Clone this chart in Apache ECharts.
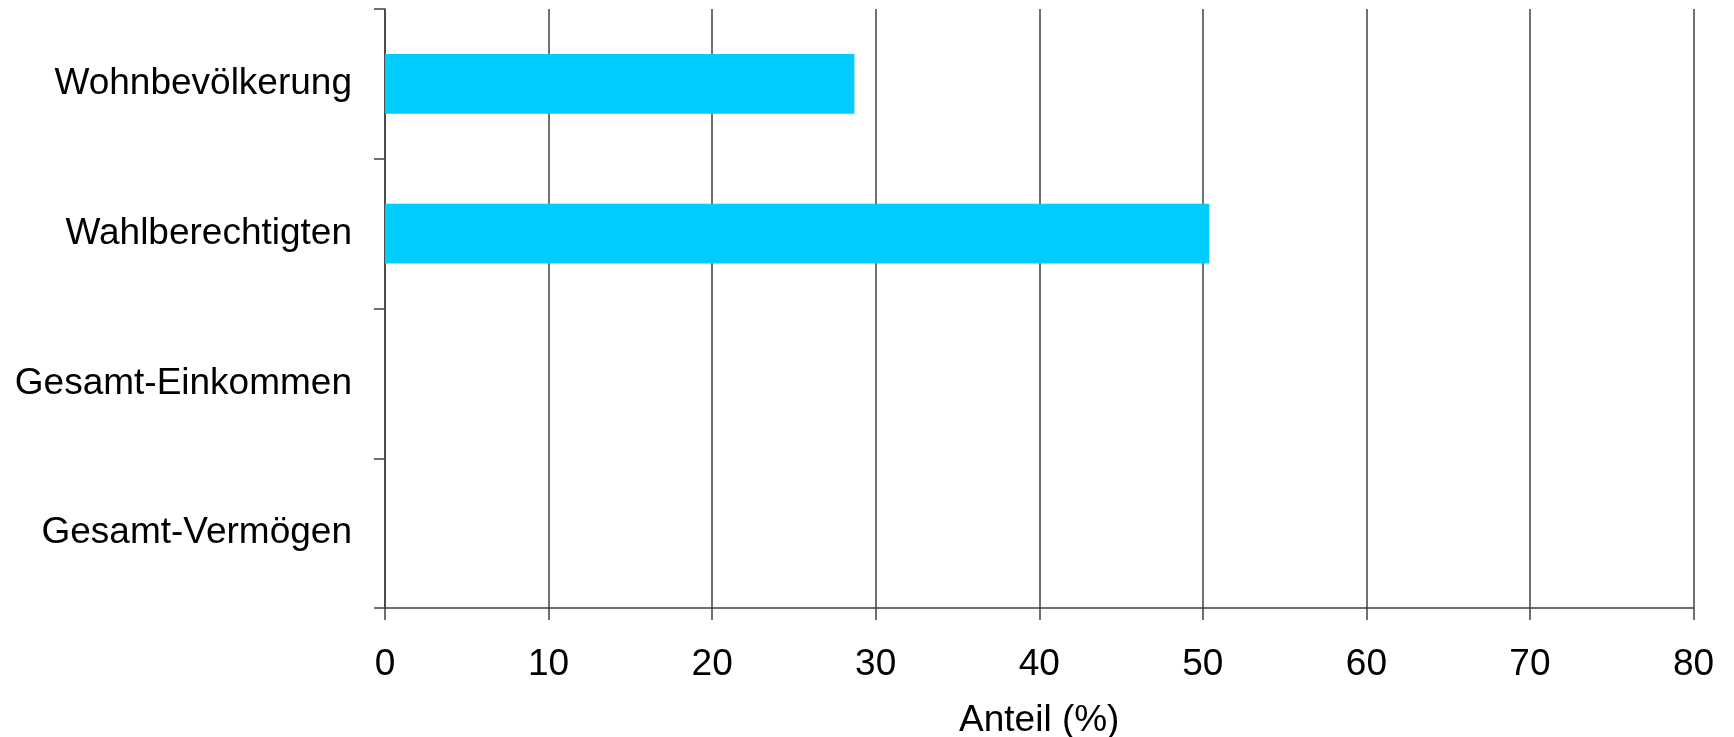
<!DOCTYPE html>
<html>
<head>
<meta charset="utf-8">
<script src="https://cdn.jsdelivr.net/npm/echarts@6/dist/echarts.min.js"></script>
<style>
html,body{margin:0;padding:0;background:#fff;}
#chart{width:1734px;height:737px;}
</style>
</head>
<body>
<div id="chart"></div>
<script>
const categories = ['Wohnbevölkerung', 'Wahlberechtigten', 'Gesamt-Einkommen', 'Gesamt-Vermögen'];
const values = [28.7, 50.4, null, null];
const xTicks = [0, 10, 20, 30, 40, 50, 60, 70, 80];
const xAxisName = 'Anteil (%)';

const chart = echarts.init(document.getElementById('chart'), null, {renderer: 'canvas'});
const font = 'Liberation Sans, Arial, sans-serif';
chart.setOption({
  animation: false,
  backgroundColor: '#ffffff',
  grid: {left: 385, right: 40.5, top: 9, bottom: 129, containLabel: false, outerBoundsMode: 'none'},
  xAxis: {
    type: 'value',
    min: xTicks[0],
    max: xTicks[xTicks.length - 1],
    interval: 10,
    name: xAxisName,
    nameLocation: 'middle',
    nameGap: 94,
    nameTextStyle: {fontFamily: font, fontSize: 37, color: '#000'},
    axisLine: {show: true, lineStyle: {color: '#404040', width: 1.5}},
    axisTick: {show: true, length: 12, lineStyle: {color: '#404040', width: 1.5}},
    axisLabel: {fontFamily: font, fontSize: 37, color: '#000', margin: 38},
    splitLine: {show: true, lineStyle: {color: '#404040', width: 1.5}}
  },
  yAxis: {
    type: 'category',
    data: categories,
    inverse: true,
    axisLine: {show: true, lineStyle: {color: '#404040', width: 1.5}},
    axisTick: {show: true, length: 11, lineStyle: {color: '#404040', width: 1.5}},
    axisLabel: {fontFamily: font, fontSize: 37, color: '#000', margin: 33},
    splitLine: {show: false}
  },
  series: [{
    type: 'bar',
    data: values,
    barCategoryGap: '60%',
    itemStyle: {color: '#00CCFF'}
  }]
});
</script>
</body>
</html>
